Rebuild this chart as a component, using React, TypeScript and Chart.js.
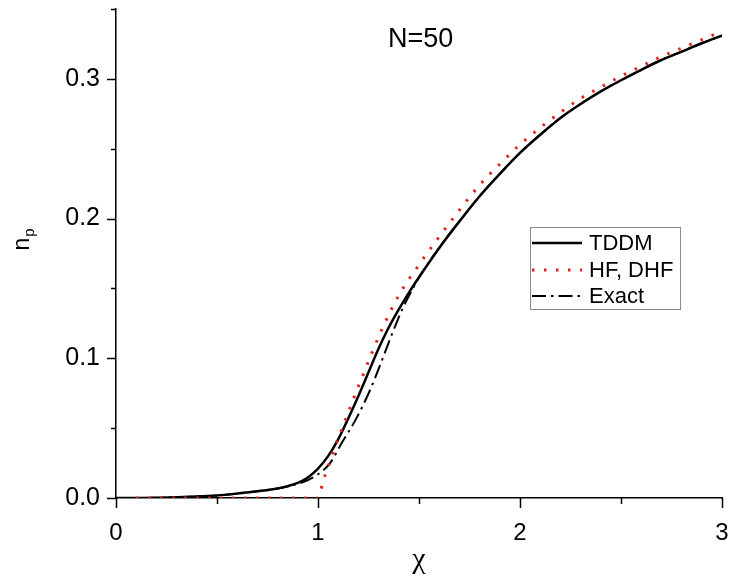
import React, { useEffect, useRef } from 'react';
import { Chart, registerables } from 'chart.js';

Chart.register(...registerables);

// ---- data ----
const tddmX = [0, 0.2, 0.4, 0.5, 0.6, 0.7, 0.8, 0.85, 0.9, 0.95, 1.0, 1.05, 1.1, 1.15, 1.2, 1.25, 1.3, 1.35, 1.4, 1.45, 1.5, 1.6, 1.7, 1.8, 1.9, 2.0, 2.1, 2.2, 2.3, 2.4, 2.5, 2.6, 2.7, 2.8, 2.9, 3.0];
const tddmY = [0, 0.0002, 0.001, 0.0018, 0.0032, 0.0048, 0.0068, 0.0085, 0.0108, 0.0147, 0.021, 0.03, 0.042, 0.057, 0.073, 0.09, 0.107, 0.122, 0.135, 0.147, 0.158, 0.179, 0.198, 0.216, 0.232, 0.247, 0.26, 0.272, 0.282, 0.291, 0.299, 0.3065, 0.3135, 0.3195, 0.3255, 0.331];

const hfX = [0.1, 0.3, 0.5, 0.7, 0.9, 1.0, 1.01, 1.025, 1.05, 1.07, 1.12, 1.17, 1.22, 1.27, 1.33, 1.4, 1.5, 1.6, 1.7, 1.8, 1.9, 2.0, 2.1, 2.2, 2.3, 2.4, 2.5, 2.6, 2.7, 2.8, 2.9, 3.0];
const hfY = [0, 0, 0, 0, 0, 0, 0.003, 0.012, 0.022, 0.031, 0.05, 0.069, 0.087, 0.105, 0.125, 0.145, 0.167, 0.187, 0.206, 0.224, 0.239, 0.253, 0.265, 0.276, 0.286, 0.294, 0.302, 0.309, 0.316, 0.322, 0.328, 0.334];

const exactX = [0, 0.2, 0.4, 0.5, 0.6, 0.7, 0.8, 0.85, 0.9, 0.95, 1.0, 1.06, 1.12, 1.19, 1.26, 1.31, 1.36, 1.42, 1.47, 1.5, 1.6, 1.7, 1.8, 1.9, 2.0, 2.1, 2.2, 2.3, 2.4, 2.5, 2.6, 2.7, 2.8, 2.9, 3.0];
const exactY = [0, 0.0002, 0.001, 0.0018, 0.0032, 0.0048, 0.0068, 0.0083, 0.0102, 0.0128, 0.017, 0.025, 0.04, 0.057, 0.078, 0.096, 0.115, 0.136, 0.15, 0.158, 0.179, 0.198, 0.216, 0.232, 0.247, 0.26, 0.272, 0.282, 0.291, 0.299, 0.3065, 0.3135, 0.3195, 0.3255, 0.331];

const seriesLabels = ['TDDM', 'HF, DHF', 'Exact'];
const xTickValues = [0, 0.5, 1, 1.5, 2, 2.5, 3];
const xTickLabels = ['0', '', '1', '', '2', '', '3'];
const yTickValues = [0, 0.05, 0.1, 0.15, 0.2, 0.25, 0.3, 0.35];
const yTickLabels = ['0.0', '', '0.1', '', '0.2', '', '0.3', ''];
const titleText = 'N=50';
const xTitle = 'χ';
const yTitleMain = 'n';
const yTitleSub = 'p';

const FONT = "'Liberation Sans', Arial, sans-serif";
const RED = 'rgb(228, 32, 32)';

function pts(xs: number[], ys: number[]) {
  return xs.map((x, i) => ({ x, y: ys[i] }));
}

function labelFor(values: number[], labels: string[], v: number) {
  const i = values.findIndex((t) => Math.abs(t - v) < 1e-9);
  if (i < 0) return null;
  return labels[i] === '' ? null : labels[i];
}

const decorPlugin = {
  id: 'decor',
  afterDraw(chart: any) {
    const ctx = chart.ctx;
    const xs = chart.scales.x;
    const ys = chart.scales.y;
    const area = chart.chartArea;
    ctx.save();
    ctx.strokeStyle = '#000';
    ctx.lineWidth = 1.5;
    // y ticks
    yTickValues.forEach((v, i) => {
      const y = Math.round(ys.getPixelForValue(v)) + 0.5;
      const len = yTickLabels[i] !== '' ? 9 : 5;
      ctx.beginPath();
      ctx.moveTo(area.left - len, y);
      ctx.lineTo(area.left, y);
      ctx.stroke();
    });
    // x ticks
    xTickValues.forEach((v, i) => {
      const x = Math.round(xs.getPixelForValue(v)) + 0.5;
      const len = xTickLabels[i] !== '' ? 10 : 6;
      ctx.beginPath();
      ctx.moveTo(x, area.bottom);
      ctx.lineTo(x, area.bottom + len);
      ctx.stroke();
    });

    // title N=50
    ctx.fillStyle = '#000';
    ctx.font = `27px ${FONT}`;
    ctx.textAlign = 'left';
    ctx.textBaseline = 'alphabetic';
    ctx.fillText(titleText, 388, 47);

    // x title
    ctx.font = `30px 'Liberation Serif', 'DejaVu Serif', serif`;
    ctx.textAlign = 'center';
    ctx.textBaseline = 'middle';
    ctx.fillText(xTitle, (area.left + area.right) / 2, 560);

    // y title n_p rotated
    ctx.save();
    ctx.translate(29, 240);
    ctx.rotate(-Math.PI / 2);
    ctx.textAlign = 'left';
    ctx.textBaseline = 'alphabetic';
    ctx.font = `23px ${FONT}`;
    const wn = ctx.measureText(yTitleMain).width;
    ctx.font = `15px ${FONT}`;
    const wp = ctx.measureText(yTitleSub).width;
    const start = -(wn + wp) / 2;
    ctx.font = `23px ${FONT}`;
    ctx.fillText(yTitleMain, start, 0);
    ctx.font = `15px ${FONT}`;
    ctx.fillText(yTitleSub, start + wn + 1, 5);
    ctx.restore();

    // legend
    const bx = 530, by = 227, bw = 150, bh = 82;
    ctx.strokeStyle = '#8a8a8a';
    ctx.lineWidth = 1;
    ctx.strokeRect(bx + 0.5, by + 0.5, bw, bh);
    const rows = [243, 270, 296];
    chart.data.datasets.forEach((ds: any, i: number) => {
      const y = rows[i];
      ctx.save();
      ctx.strokeStyle = ds.borderColor;
      ctx.lineWidth = ds.borderWidth;
      ctx.setLineDash(ds.borderDash || []);
      ctx.beginPath();
      ctx.moveTo(bx + 2, y);
      ctx.lineTo(bx + 52, y);
      ctx.stroke();
      ctx.restore();
      ctx.fillStyle = '#000';
      ctx.font = `22px ${FONT}`;
      ctx.textAlign = 'left';
      ctx.textBaseline = 'middle';
      ctx.fillText(ds.label, bx + 59, y + 1);
    });
    ctx.restore();
  },
};

function zeroPad(s: any) {
  s.paddingTop = 0;
  s.paddingBottom = 0;
  s.paddingLeft = 0;
  s.paddingRight = 0;
}

export default function App() {
  const ref = useRef<HTMLCanvasElement>(null);
  useEffect(() => {
    if (!ref.current) return;
    const chart = new Chart(ref.current, {
      type: 'line',
      data: {
        datasets: [
          {
            label: seriesLabels[0],
            data: pts(tddmX, tddmY),
            borderColor: '#000',
            borderWidth: 2.5,
            pointRadius: 0,
            cubicInterpolationMode: 'monotone',
            order: 2,
          },
          {
            label: seriesLabels[1],
            data: pts(hfX, hfY),
            borderColor: RED,
            borderWidth: 3,
            borderDash: [2.5, 9.5],
            pointRadius: 0,
            cubicInterpolationMode: 'monotone',
            order: 0,
          },
          {
            label: seriesLabels[2],
            data: pts(exactX, exactY),
            borderColor: '#000',
            borderWidth: 2,
            borderDash: [14, 5, 2.5, 5],
            pointRadius: 0,
            cubicInterpolationMode: 'monotone',
            order: 1,
          },
        ],
      },
      options: {
        animation: false,
        responsive: false,
        devicePixelRatio: 1,
        layout: { padding: { left: 0, right: 10, top: 9, bottom: 0 } },
        plugins: {
          legend: { display: false },
          tooltip: { enabled: false },
          title: { display: false },
        },
        scales: {
          x: {
            type: 'linear',
            min: 0,
            max: 3,
            afterFit: (s: any) => { s.height = 82; zeroPad(s); },
            afterBuildTicks: (s: any) => { s.ticks = xTickValues.map((v) => ({ value: v })); },
            ticks: {
              autoSkip: false,
              maxRotation: 0,
              padding: 21,
              color: '#000',
              font: { size: 24, family: FONT },
              callback: (v: any) => labelFor(xTickValues, xTickLabels, Number(v)),
            },
            grid: { display: false, drawTicks: false },
            border: { display: true, color: '#000', width: 1.5 },
          },
          y: {
            type: 'linear',
            min: 0,
            max: 0.35,
            afterFit: (s: any) => { s.width = 116; zeroPad(s); },
            afterBuildTicks: (s: any) => { s.ticks = yTickValues.map((v) => ({ value: v })); },
            ticks: {
              autoSkip: false,
              padding: 16,
              color: '#000',
              font: { size: 25, family: FONT },
              callback: (v: any) => labelFor(yTickValues, yTickLabels, Number(v)),
            },
            grid: { display: false, drawTicks: false },
            border: { display: true, color: '#000', width: 1.5 },
          },
        },
      } as any,
      plugins: [decorPlugin],
    });
    return () => chart.destroy();
  }, []);
  return (
    <div style={{ position: 'absolute', left: 0, top: 0, width: 732, height: 580, background: '#fff' }}>
      <canvas ref={ref} width={732} height={580} style={{ width: 732, height: 580, display: 'block' }} />
    </div>
  );
}
